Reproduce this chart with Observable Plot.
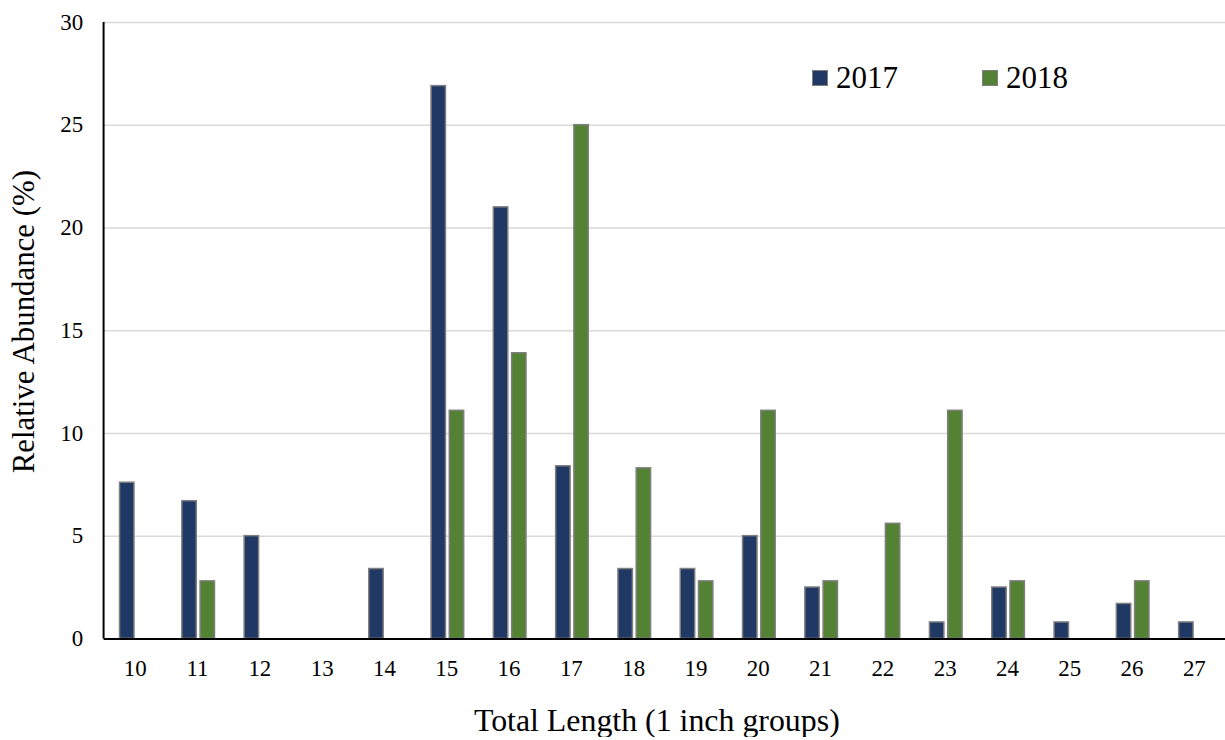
<!DOCTYPE html>
<html><head><meta charset="utf-8">
<script src="https://cdn.jsdelivr.net/npm/d3@7"></script>
<script src="https://cdn.jsdelivr.net/npm/@observablehq/plot@0.6"></script>
<style>
html,body{margin:0;padding:0;background:#fff;overflow:hidden;}
#wrap{position:relative;width:1225px;height:740px;overflow:hidden;font-family:"Liberation Serif","Times New Roman",serif;}
#wrap svg{display:block;}
.lg{position:absolute;top:0;left:0;}
.sw{position:absolute;width:14px;height:14px;border:1.5px solid #7f7f7f;}
.lt{position:absolute;font-size:31px;line-height:31px;color:#000;white-space:nowrap;}
</style></head><body><div id="wrap"></div>
<script>
const lengths = [10, 11, 12, 13, 14, 15, 16, 17, 18, 19, 20, 21, 22, 23, 24, 25, 26, 27];
const years = ["2017", "2018"];
const abundance2017 = [7.6, 6.7, 5.0, 0, 3.4, 26.9, 21.0, 8.4, 3.4, 3.4, 5.0, 2.5, 0, 0.8, 2.5, 0.8, 1.7, 0.8];
const abundance2018 = [0, 2.8, 0, 0, 0, 11.1, 13.9, 25.0, 8.3, 2.8, 11.1, 2.8, 5.6, 11.1, 2.8, 0, 2.8, 0];
const yTicks = [0, 5, 10, 15, 20, 25, 30];
const colors = ["#203864", "#548235"];
const xTitle = "Total Length (1 inch groups)";
const yTitle = "Relative Abundance (%)";

const W = 1230, H = 740, mL = 104, mR = 0, mT = 22, mB = 99;
const step = (W - mL - mR) / lengths.length;

const rows = (vals, year) => lengths.map((l, i) => ({length: String(l), value: vals[i], year})).filter(d => d.value > 0);
const rows2017 = rows(abundance2017, years[0]);
const rows2018 = rows(abundance2018, years[1]);

const font = '"Liberation Serif","Times New Roman",serif';

const plot = Plot.plot({
  width: W, height: H,
  marginLeft: mL, marginRight: mR, marginTop: mT, marginBottom: mB,
  style: {fontFamily: font, fontSize: "22px", color: "#000", background: "#fff"},
  x: {type: "band", domain: lengths.map(String), padding: 0, round: false, label: null},
  y: {domain: [0, 30], label: null},
  color: {domain: years, range: colors},
  marks: [
    Plot.gridY(yTicks.filter(t => t > 0), {stroke: "#d9d9d9", strokeOpacity: 1, strokeWidth: 1.5}),
    Plot.barY(rows2017, {x: "length", y: "value", fill: "year", stroke: "#7f7f7f", strokeWidth: 1.5,
      insetLeft: 0.256 * step, insetRight: (1 - 0.488) * step}),
    Plot.barY(rows2018, {x: "length", y: "value", fill: "year", stroke: "#7f7f7f", strokeWidth: 1.5,
      insetLeft: 0.549 * step, insetRight: (1 - 0.78) * step}),
    Plot.ruleY([0], {stroke: "#000", strokeWidth: 2}),
    Plot.axisY({ticks: yTicks, tickSize: 0, tickPadding: 21, fontSize: 23, label: null}),
    Plot.axisX({tickSize: 0, tickPadding: 21, fontSize: 23, label: null}),
    Plot.text([yTitle], {text: d => d, frameAnchor: "left", rotate: -90, dx: -80, dy: -9, textAnchor: "middle", lineAnchor: "middle", fontSize: 31}),
    Plot.text([xTitle], {text: d => d, frameAnchor: "bottom", dy: 82, dx: -8, textAnchor: "middle", lineAnchor: "middle", fontSize: 32})
  ]
});

// y-axis line
d3.select(plot).append("line")
  .attr("x1", mL).attr("x2", mL).attr("y1", mT).attr("y2", H - mB)
  .attr("stroke", "#000").attr("stroke-width", 2);

const wrap = document.getElementById("wrap");
wrap.appendChild(plot);

// legend
const lg = document.createElement("div");
lg.className = "lg";
const legendPos = [812, 982];
years.forEach((y, i) => {
  const sw = document.createElement("div");
  sw.className = "sw";
  sw.style.left = legendPos[i] + "px";
  sw.style.top = "70px";
  sw.style.background = colors[i];
  const t = document.createElement("div");
  t.className = "lt";
  t.style.left = (legendPos[i] + 24) + "px";
  t.style.top = "62px";
  t.textContent = y;
  lg.appendChild(sw); lg.appendChild(t);
});
wrap.appendChild(lg);
</script>
</body></html>
